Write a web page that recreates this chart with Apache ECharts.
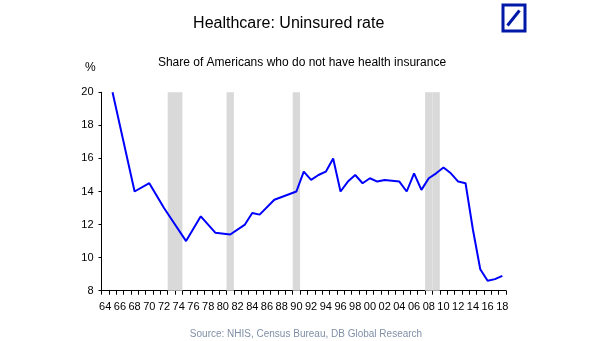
<!DOCTYPE html>
<html>
<head>
<meta charset="utf-8">
<script src="https://cdn.jsdelivr.net/npm/echarts@6/dist/echarts.min.js"></script>
<style>html,body{margin:0;padding:0;background:#fff}#c{width:605px;height:341px}</style>
</head>
<body>
<div id="c"></div>
<script>
// Categories: years 1964..2018 (two-digit labels)
const years = ['64','65','66','67','68','69','70','71','72','73','74','75','76','77','78','79',
  '80','81','82','83','84','85','86','87','88','89','90','91','92','93','94','95','96','97','98','99',
  '00','01','02','03','04','05','06','07','08','09','10','11','12','13','14','15','16','17','18'];
// Uninsured rate, % (null = no observation, line connects across)
const uninsured = [null,20.0,null,null,14.0,null,14.5,null,13.0,null,null,11.0,null,12.5,null,11.5,
  null,11.4,null,12.0,12.7,12.6,null,13.5,null,null,14.0,15.2,14.7,15.0,15.2,16.0,14.0,14.6,15.0,14.5,
  14.8,14.6,14.7,null,14.6,14.0,15.1,14.1,14.8,15.1,15.45,15.1,14.6,14.5,11.7,9.3,8.6,8.7,8.9];
// Recession years (shaded bands up to axis top)
const recessionYears = ['73','74','81','90','08','09'];
const yTicks = {min: 8, max: 20, interval: 2};

const recession = years.map(y => recessionYears.includes(y) ? yTicks.max : null);

const chart = echarts.init(document.getElementById('c'), null, {renderer: 'canvas'});
const font = '"Liberation Sans", Arial, sans-serif';
chart.setOption({
  animation: false,
  backgroundColor: '#fff',
  title: [
    {text: 'Healthcare: Uninsured rate', left: 283.7, top: 11, textAlign: 'center',
      textStyle: {fontFamily: font, fontSize: 16, fontWeight: 'normal', color: '#000'}},
    {text: 'Share of Americans who do not have health insurance', left: 297, top: 52, textAlign: 'center',
      textStyle: {fontFamily: font, fontSize: 12, fontWeight: 'normal', color: '#000'}},
    {text: 'Source: NHIS, Census Bureau, DB Global Research', left: 301, top: 324, textAlign: 'center',
      textStyle: {fontFamily: font, fontSize: 10, fontWeight: 'normal', color: '#8090a8'}}
  ],
  grid: {left: 101.5, right: 99, top: 92.3, bottom: 50.3, containLabel: false},
  xAxis: {
    type: 'category', data: years, boundaryGap: true,
    axisLine: {lineStyle: {color: '#000', width: 1}},
    axisTick: {show: true, interval: 0, length: 4, lineStyle: {color: '#000'}},
    axisLabel: {interval: 1, margin: 11, fontFamily: font, fontSize: 11, color: '#000'},
    splitLine: {show: false}
  },
  yAxis: {
    type: 'value', min: yTicks.min, max: yTicks.max, interval: yTicks.interval,
    axisLine: {show: true, lineStyle: {color: '#000', width: 1}},
    axisTick: {show: true, length: 3, lineStyle: {color: '#000'}},
    axisLabel: {margin: 8, fontFamily: font, fontSize: 11, color: '#000'},
    splitLine: {show: false}
  },
  series: [
    {type: 'bar', data: recession, barWidth: '100%', silent: true,
      itemStyle: {color: '#d9d9d9'}, z: 1},
    {type: 'line', data: uninsured, connectNulls: true, symbol: 'none',
      lineStyle: {color: '#0000ff', width: 2}, z: 3}
  ],
  graphic: [
    {type: 'text', left: 85, top: 62, style: {text: '%', fontFamily: font, fontSize: 12, fill: '#000'}},
    {type: 'rect', shape: {x: 503, y: 5, width: 22, height: 26},
      style: {fill: '#fff', stroke: '#0018a8', lineWidth: 3}},
    {type: 'line', shape: {x1: 507.5, y1: 25.5, x2: 519.5, y2: 10.5},
      style: {stroke: '#0018a8', lineWidth: 3}}
  ]
});
</script>
</body>
</html>
